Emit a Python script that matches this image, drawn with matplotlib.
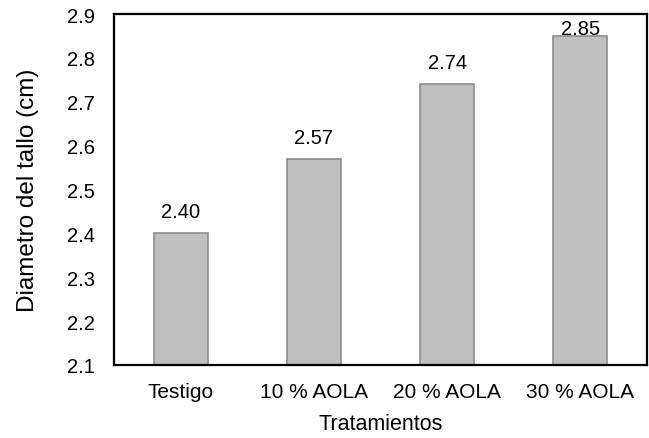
import matplotlib
matplotlib.use("Agg")
import matplotlib.pyplot as plt

categories = ["Testigo", "10 % AOLA", "20 % AOLA", "30 % AOLA"]
diametro = [2.40, 2.57, 2.74, 2.85]
y_ticks = [2.1, 2.2, 2.3, 2.4, 2.5, 2.6, 2.7, 2.8, 2.9]

plt.rcParams["font.family"] = ["Liberation Sans", "DejaVu Sans"]

fig = plt.figure(figsize=(6.49, 4.39), dpi=100)
ax = fig.add_axes([114 / 649, 1 - 366 / 439, 533 / 649, 351 / 439])

x = range(len(categories))
ax.bar(x, diametro, width=0.405, bottom=0, color="#BFBFBF",
       edgecolor="#8C8C8C", linewidth=1.2, zorder=2)

ax.set_ylim(2.1, 2.9)
ax.set_xlim(-0.5, len(categories) - 0.5)
ax.set_yticks(y_ticks)
ax.set_yticklabels([f"{v:.1f}" for v in y_ticks], fontsize=14.5)
ax.set_xticks(list(x))
ax.set_xticklabels(categories, fontsize=15)
ax.tick_params(axis="y", length=0, pad=14)
ax.tick_params(axis="x", length=0, pad=12)

for s in ax.spines.values():
    s.set_linewidth(1.6)
    s.set_color("black")

# value labels above each bar, kept inside the plot area
ymax = ax.get_ylim()[1]
for xi, v in zip(x, diametro):
    ly = min(v + 0.0366, ymax - 0.046)
    ax.text(xi, ly, f"{v:.2f}", ha="center", va="baseline", fontsize=14.5)

ax.set_ylabel("Diametro del tallo (cm)", fontsize=17.5, labelpad=20)
ax.set_xlabel("Tratamientos", fontsize=15.5, labelpad=9)

fig.savefig("out.png", dpi=100)
